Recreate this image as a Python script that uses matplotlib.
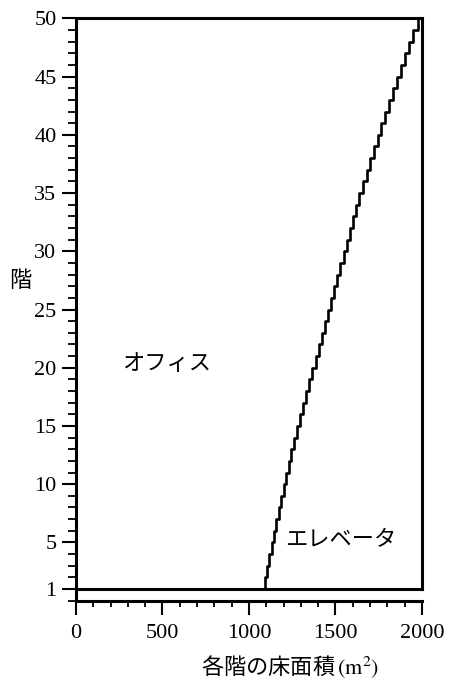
import matplotlib.pyplot as plt
from matplotlib.ticker import MultipleLocator, FixedLocator

# floor number and office floor area per floor (m2)
floors = list(range(1, 51))
office_area = [
    1092, 1105, 1118, 1132, 1145, 1159, 1173, 1187, 1201, 1215,
    1230, 1246, 1262, 1279, 1296, 1313, 1330, 1348, 1366, 1385,
    1403, 1421, 1439, 1457, 1475, 1493, 1511, 1529, 1547, 1565,
    1583, 1601, 1620, 1639, 1660, 1681, 1702, 1723, 1744, 1766,
    1788, 1810, 1833, 1856, 1879, 1903, 1927, 1951, 1975, 2000,
]
total_area = 2000
top_floor = 50
yticks = [1, 5, 10, 15, 20, 25, 30, 35, 40, 45, 50]
xticks = [0, 500, 1000, 1500, 2000]

jp = ["Noto Sans CJK JP", "DejaVu Sans"]
serif = "Liberation Serif"
plt.rcParams["mathtext.fontset"] = "stix"

fig = plt.figure(figsize=(4.51, 6.81), dpi=100)
ax = fig.add_axes([0.1685, 0.118, 0.767, 0.855])

# building outline: floor-1 line, top floor line and right edge
ax.plot([0, total_area], [1, 1], color="black", lw=2.2, clip_on=False, zorder=3)
ax.plot([0, total_area], [top_floor, top_floor], color="black", lw=2.2, clip_on=False, zorder=3)
ax.plot([total_area, total_area], [1, top_floor], color="black", lw=2.2, clip_on=False, zorder=3)

# office / elevator boundary (one step per floor)
ax.plot(office_area, floors, drawstyle="steps-pre", color="black", lw=1.9,
        clip_on=False, zorder=4)

ax.set_xlim(0, total_area)
ax.set_ylim(0, top_floor)

for side in ("top", "right"):
    ax.spines[side].set_visible(False)
for side in ("left", "bottom"):
    ax.spines[side].set_linewidth(2.2)

ax.xaxis.set_major_locator(FixedLocator(xticks))
ax.xaxis.set_minor_locator(MultipleLocator(100))
ax.yaxis.set_major_locator(FixedLocator(yticks))
ax.yaxis.set_minor_locator(MultipleLocator(1))

ax.tick_params(axis="x", which="major", direction="out", length=10, width=1.5, pad=7)
ax.tick_params(axis="x", which="minor", direction="out", length=4.5, width=1.3)
ax.tick_params(axis="y", which="major", direction="out", length=10, width=1.5, pad=4)
ax.tick_params(axis="y", which="minor", direction="out", length=5.5, width=1.3)

for lab in ax.get_xticklabels() + ax.get_yticklabels():
    lab.set_family(serif)
    lab.set_fontsize(16)

ax.text(266, 20.4, "オフィス", family=jp, fontsize=16, ha="left", va="center")
ax.text(1208, 5.2, "エレベータ", family=jp, fontsize=16, ha="left", va="center")

ax.text(-0.162, 0.55, "階", family=jp, fontsize=16, ha="center", va="center",
        transform=ax.transAxes)
ax.text(0.62, -0.114, "各階の床面積$\\,(\\mathrm{m}^2)$", family=jp, fontsize=16,
        ha="center", va="center", transform=ax.transAxes)

fig.savefig("out.png", dpi=100)
